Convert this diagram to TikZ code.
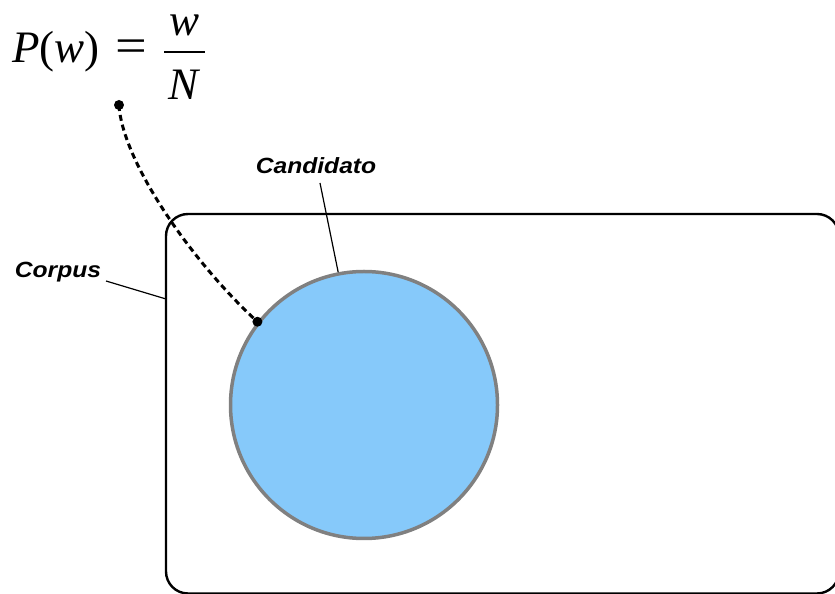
\documentclass[tikz,border=0pt]{standalone}
\usepackage{fontspec}
\usepackage{graphicx}
\setmainfont{Liberation Serif}
\newfontfamily\labelfont{Liberation Sans}
\definecolor{circfill}{RGB}{134,201,250}
\definecolor{circline}{RGB}{128,128,128}
\tikzset{
  lbl/.style={font=\labelfont\bfseries\itshape\fontsize{22}{24}\selectfont, inner sep=0pt, anchor=base, xscale=1.12},
  fml/.style={font=\fontsize{45}{50}\selectfont, inner sep=0pt},
  leader/.style={line width=1.2pt, black},
  dotend/.style={circle, fill=black, inner sep=0pt, minimum size=10pt},
}
\begin{document}
\begin{tikzpicture}[x=1pt,y=1pt]
\useasboundingbox (0,0) rectangle (835,594);
% corpus rectangle
\draw[line width=2.4pt, rounded corners=22pt] (166,380) rectangle (839,0.5);
\coordinate (corpusedge) at (166,295);
% candidate circle
\node[circle, draw=circline, fill=circfill, line width=3.5pt, minimum size=267pt, inner sep=0pt] (cand) at (364,189) {};
% formula
\node[fml, anchor=base west] (flhs) at (12,531) {\textit{P}(\textit{w})\hspace{0.35em}\scalebox{1.25}[1.1]{=}};
\node[fml, anchor=base, text height=0.46em, text depth=0pt] (fnum) at (185,558) {\textit{w}};
\node[fml, anchor=base] (fden) at (185,494) {\textit{N}};
\coordinate (barl) at (164,542);
\coordinate (barr) at (205,542);
\draw[line width=2.2pt] (barl) -- (barr);
% labels
\node[lbl] (candlbl) at (316,420) {Candidato};
\node[lbl] (corplbl) at (58,316) {Corpus};
\coordinate (candtop) at (320,411);
\coordinate (corpend) at (106,313);
\draw[leader] (candtop) -- (cand.101);
\draw[leader] (corpend) -- (corpusedge);
% dashed connector
\node[dotend] (d1) at (119,489) {};
\node[dotend] (d2) at (cand.142) {};
\draw[line width=3pt, dash pattern=on 6pt off 4pt] (d1.center) .. controls (122,434) and (190,334) .. (d2.center);
\end{tikzpicture}
\end{document}
